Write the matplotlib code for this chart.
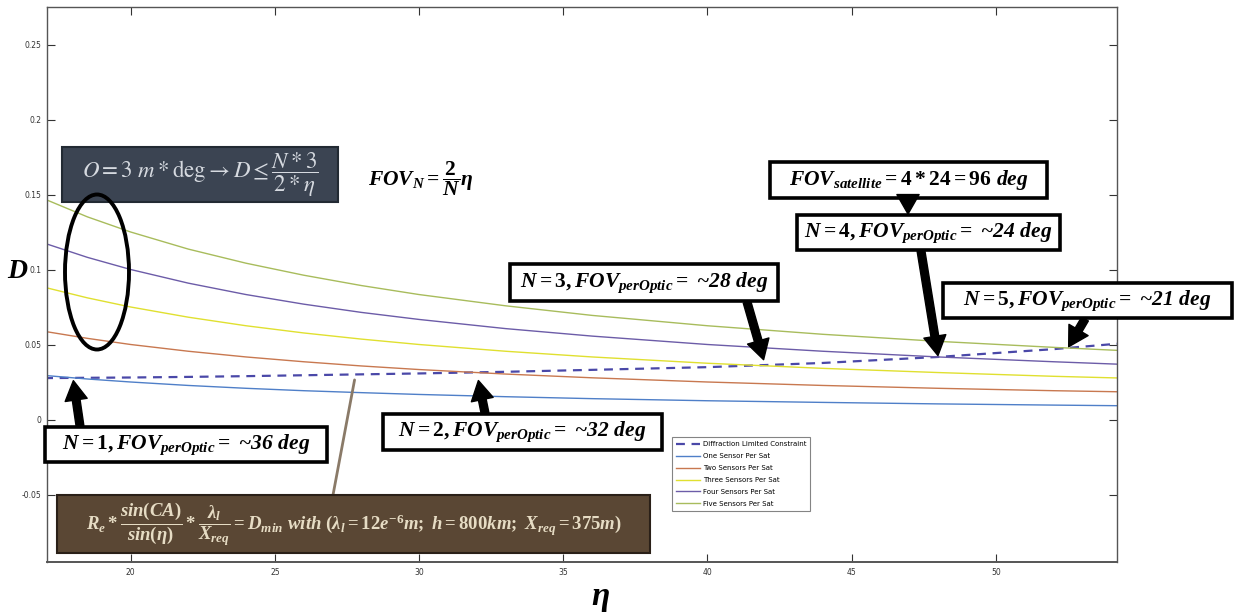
#!/usr/bin/env python3
"""
Aperture diameter D vs. elevation angle eta, sensors per satellite vs. diffraction limit.
"""

import matplotlib
matplotlib.use("Agg")
import matplotlib.pyplot as plt
import numpy as np
from matplotlib.patches import Rectangle, Ellipse

# values
eta = [17, 18.5, 20, 22, 24, 26, 28, 30, 33, 36, 40, 44, 48, 52, 54.2]
diffraction = [0.0276, 0.0278, 0.0280, 0.0284, 0.0289, 0.0295, 0.0301, 0.0307,
               0.0318, 0.0331, 0.0349, 0.0377, 0.0417, 0.0469, 0.0505]
one_sensor = [0.0294, 0.0270, 0.0250, 0.0227, 0.0208, 0.0192, 0.0179, 0.0167,
              0.0152, 0.0139, 0.0125, 0.0114, 0.0104, 0.0096, 0.0092]
two_sensors = [0.0588, 0.0541, 0.0500, 0.0455, 0.0417, 0.0385, 0.0357, 0.0333,
               0.0303, 0.0278, 0.0250, 0.0227, 0.0208, 0.0192, 0.0185]
three_sensors = [0.0882, 0.0811, 0.0750, 0.0682, 0.0625, 0.0577, 0.0536, 0.0500,
                 0.0455, 0.0417, 0.0375, 0.0341, 0.0313, 0.0288, 0.0277]
four_sensors = [0.1176, 0.1081, 0.1000, 0.0909, 0.0833, 0.0769, 0.0714, 0.0667,
                0.0606, 0.0556, 0.0500, 0.0455, 0.0417, 0.0385, 0.0369]
five_sensors = [0.1471, 0.1351, 0.1250, 0.1136, 0.1042, 0.0962, 0.0893, 0.0833,
                0.0758, 0.0694, 0.0625, 0.0568, 0.0521, 0.0481, 0.0461]

legend_labels = ["Diffraction Limited Constraint", "One Sensor Per Sat", "Two Sensors Per Sat",
                 "Three Sensors Per Sat", "Four Sensors Per Sat", "Five Sensors Per Sat"]

# crossing points (eta) called out by the boxes, N = 1..5
crossings = [18, 32, 42, 48, 52.5]

plt.rcParams['mathtext.fontset'] = 'custom'
plt.rcParams['mathtext.it'] = 'Liberation Serif:italic:bold'
plt.rcParams['mathtext.rm'] = 'Liberation Serif:bold'
plt.rcParams['mathtext.bf'] = 'Liberation Serif:bold'

W, H = 1243, 614
fig = plt.figure(figsize=(W / 100, H / 100), dpi=100)
L, R, T, B = 47, 1117, 7, 562
ax = fig.add_axes([L / W, 1 - B / H, (R - L) / W, (B - T) / H])

ax.plot(eta, diffraction, linestyle='--', color='#4a48a8', lw=1.6, dashes=(4, 3), label=legend_labels[0])
ax.plot(eta, one_sensor, color='#4f7fc8', lw=1.0, label=legend_labels[1])
ax.plot(eta, two_sensors, color='#c87850', lw=1.0, label=legend_labels[2])
ax.plot(eta, three_sensors, color='#e0e030', lw=1.0, label=legend_labels[3])
ax.plot(eta, four_sensors, color='#6c5ca8', lw=1.0, label=legend_labels[4])
ax.plot(eta, five_sensors, color='#a8bc5c', lw=1.0, label=legend_labels[5])

ax.set_xlim(17.1, 54.2)
ax.set_ylim(-0.095, 0.275)
ax.set_xticks([20, 25, 30, 35, 40, 45, 50])
ax.set_yticks([-0.05, 0, 0.05, 0.1, 0.15, 0.2, 0.25])
ax.set_yticklabels(['-0.05', '0', '0.05', '0.1', '0.15', '0.2', '0.25'])
ax.tick_params(direction='in', top=True, right=True, length=6, width=0.8,
               labelsize=5.5, colors='#333333', pad=4)
for s in ax.spines.values():
    s.set_color('#555555')
    s.set_linewidth(1.0)
ax.spines['bottom'].set_linewidth(1.4)

ax.set_ylabel(r'$D$', rotation=0, fontsize=20, va='center', ha='center')
ax.yaxis.set_label_coords((18 - L) / (R - L), (B - 270) / (B - T))
ax.set_xlabel(r'$\eta$', fontsize=24, va='center', ha='center')
ax.xaxis.set_label_coords((600 - L) / (R - L), (B - 598) / (B - T))

leg = ax.legend(loc='upper left', bbox_to_anchor=(669 / W, 1 - 434 / H),
                bbox_transform=fig.transFigure, fontsize=5, frameon=True,
                fancybox=False, edgecolor='#666666', handlelength=3.4,
                labelspacing=0.85, borderpad=0.55, handletextpad=0.4)
leg.get_frame().set_linewidth(0.8)

# overlay in pixel coordinates for the callout boxes
ov = fig.add_axes([0, 0, 1, 1])
ov.set_xlim(0, W)
ov.set_ylim(H, 0)
ov.axis('off')


def box(x0, y0, x1, y1, text, fc='white', ec='black', lw=2.6, color='black',
        size=15.5, mf='custom'):
    ov.add_patch(Rectangle((x0, y0), x1 - x0, y1 - y0, fc=fc, ec=ec, lw=lw, zorder=3))
    ov.text((x0 + x1) / 2, (y0 + y1) / 2, text, ha='center', va='center', fontsize=size,
            color=color, math_fontfamily=mf, family='Liberation Serif',
            weight='bold', style='italic', zorder=4)


def arrow(eta_x, start, shrink=0):
    d = np.interp(eta_x, eta, diffraction)
    ax.annotate('', xy=(eta_x, d), xycoords='data', xytext=start, textcoords=ov.transData,
                arrowprops=dict(arrowstyle='simple,head_width=0.8,head_length=0.7,tail_width=0.28',
                                fc='black', ec='black', mutation_scale=20,
                                shrinkA=0, shrinkB=shrink), zorder=5)


box(62, 147, 338, 202, r'$O = 3\ m * \mathrm{deg} \rightarrow D \leq \dfrac{N * 3}{2 * \eta}$',
    fc='#3b4452', ec='#222a33', lw=1.5, color='#d6dae0', size=16.5, mf='stix')
ov.text(421, 179, r'$FOV_N = \dfrac{2}{N}\eta$', ha='center', va='center', fontsize=15.5,
        math_fontfamily='custom')

box(57, 495, 650, 553,
    r'$R_e * \dfrac{sin(CA)}{sin(\eta)} * \dfrac{\lambda_l}{X_{req}} = D_{min}\ with\ '
    r'(\lambda_l = 12e^{-6}m;\ h = 800km;\ X_{req} = 375m)$',
    fc='#5a4734', ec='#2a2018', lw=1.5, color='#e6dcc4', size=13.5)

box(45, 427, 327, 462, r'$N = 1, FOV_{perOptic} =$ ~36 deg')
box(383, 414, 662, 450, r'$N = 2, FOV_{perOptic} =$ ~32 deg')
box(510, 264, 778, 301, r'$N = 3, FOV_{perOptic} =$ ~28 deg')
box(770, 162, 1047, 198, r'$FOV_{satellite} = 4 * 24 = 96\ deg$')
box(797, 215, 1060, 250, r'$N = 4, FOV_{perOptic} =$ ~24 deg')
box(943, 283, 1232, 318, r'$N = 5, FOV_{perOptic} =$ ~21 deg')

arrow(crossings[0], (80, 426), shrink=2)
arrow(crossings[1], (485, 413), shrink=6)
arrow(crossings[2], (747, 302), shrink=4)
arrow(crossings[3], (921, 251), shrink=1)
arrow(crossings[4], (1085, 319), shrink=1)
ov.annotate('', xy=(908, 214), xytext=(908, 198),
            arrowprops=dict(arrowstyle='simple,head_width=0.8,head_length=0.7,tail_width=0.28',
                            fc='black', ec='black', mutation_scale=20, shrinkA=0, shrinkB=0))

# brown pointer from the formula box to the dashed curve
ax.annotate('', xy=(27.8, np.interp(27.8, eta, diffraction)), xycoords='data',
            xytext=(333, 495), textcoords=ov.transData,
            arrowprops=dict(arrowstyle='-', color='#8a7a68', lw=2.0, shrinkA=0, shrinkB=4))

ov.add_patch(Ellipse((97, 272), 64, 155, fill=False, ec='black', lw=2.8, zorder=6))

fig.savefig('out.png', dpi=100)
